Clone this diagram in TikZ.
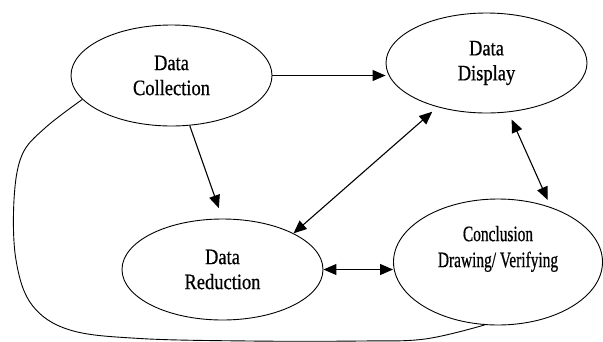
\documentclass[tikz,border=0pt]{standalone}
\usepackage{fontspec}
\newfontfamily\dfont{Liberation Serif}[FakeStretch=0.84,FakeBold=0.6]
\newfontfamily\dnarrow{Liberation Serif}[FakeStretch=0.70,FakeBold=0.6]
\usetikzlibrary{shapes.geometric,arrows.meta}

\begin{document}
\begin{tikzpicture}[>={Triangle[length=13pt,width=11pt]}, x=1pt, y=-1pt,
  blob/.style={ellipse, draw, line width=0.9pt, inner sep=0pt, align=center,
    font=\dfont\fontsize{22}{25}\selectfont},
  link/.style={line width=1.1pt}]
\useasboundingbox (0,0) rectangle (603,341);
\node[blob, minimum width=201pt, minimum height=101pt] (coll) at (171.5,75.5) {Data\\Collection};
\node[blob, minimum width=201pt, minimum height=100pt] (disp) at (486.5,63) {Data\\Display};
\node[blob, minimum width=201pt, minimum height=101pt] (red) at (222.5,269.5) {Data\\Reduction};
\node[blob, minimum width=209pt, minimum height=126pt,
  font=\dnarrow\fontsize{22}{26}\selectfont] (concl) at (498,262)
  {Conclusion\\Drawing/ Verifying\\[5pt]\mbox{}};

\draw[link,->] (coll.east) -- (coll.east -| disp.west);
\draw[link,->, shorten >=11pt] (coll.290) -- (red.north);
\draw[link,<->, shorten >=7pt] (red.27) -- (disp.222);
\draw[link,<->, shorten <=8pt, shorten >=8pt] (disp.294) -- (concl.46);
\draw[link,<->] (red.east) -- (red.east -| concl.west);

\draw[line width=0.9pt] plot[smooth, tension=0.6] coordinates {(coll.195) (45,128) (22,155)
  (14,200) (16,260) (32,305) (70,330) (140,338.5) (250,341) (360,341) (425,339) (concl.258)};
\end{tikzpicture}
\end{document}
